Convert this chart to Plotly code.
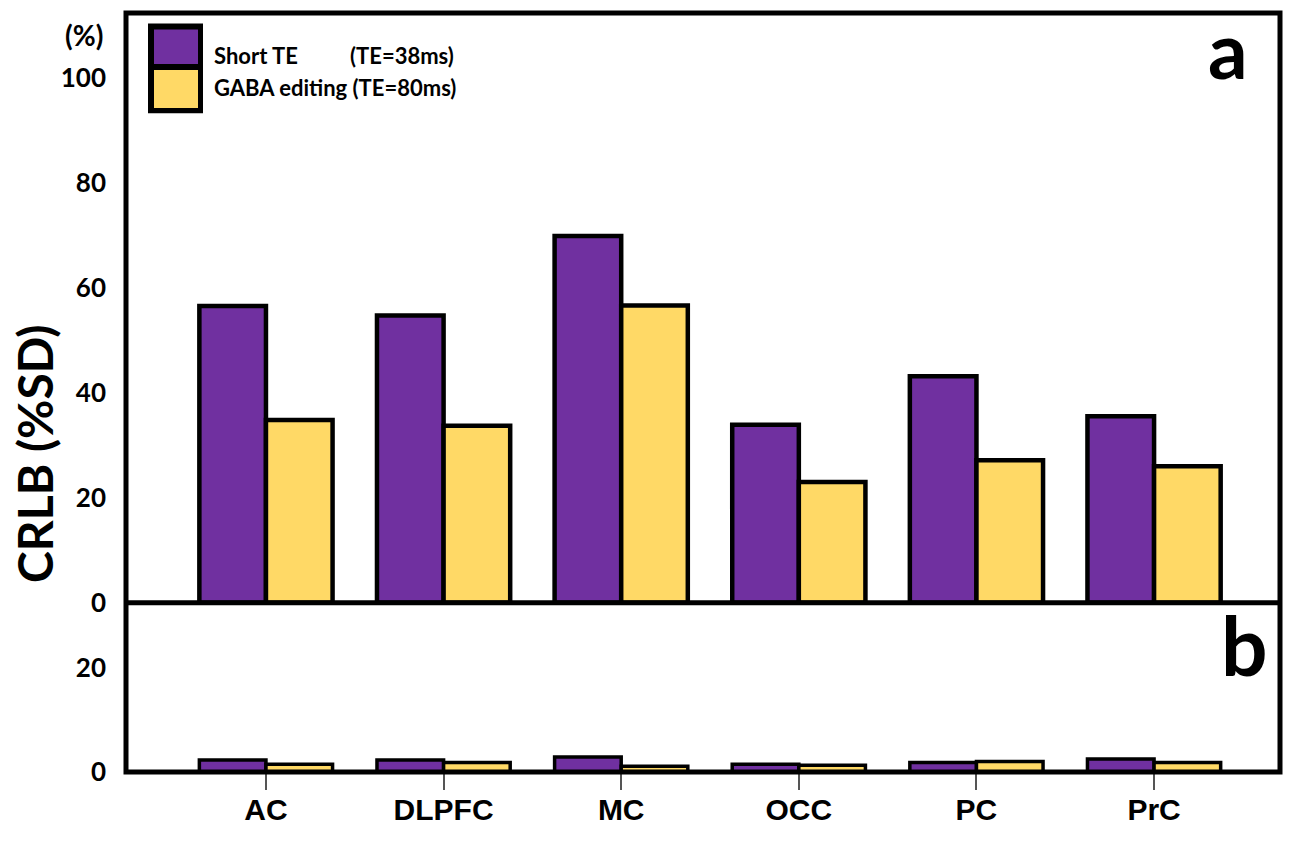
import plotly.graph_objects as go

# ---- data ----
regions = ["AC", "DLPFC", "MC", "OCC", "PC", "PrC"]
short_te_a = [56.5, 54.7, 69.8, 33.9, 43.1, 35.5]
gaba_edit_a = [34.8, 33.7, 56.6, 23.0, 27.1, 26.0]
short_te_b = [2.3, 2.3, 2.9, 1.5, 1.8, 2.5]
gaba_edit_b = [1.5, 1.8, 1.1, 1.3, 2.0, 1.8]
ticks_a = [0, 20, 40, 60, 80, 100]
ticks_b = [0, 20]
series_names = ["Short TE", "GABA editing"]
series_te = ["(TE=38ms)", "(TE=80ms)"]

PURPLE = "#7030A0"
GOLD = "#FFD966"

# ---- layout geometry (pixels in the 1300x846 window) ----
W_FIG, H_FIG = 1300, 846
L, R, T, B = 126, 1280, 12.5, 772.5
PW, PH = R - L, B - T
SPLIT = 603.0
FRAME_W = 5


def px(x):
    return (x - L) / PW


def py(y):
    return (B - y) / PH


split_frac = py(SPLIT)

fig = go.Figure()

for vals, name, col in [(short_te_a, series_names[0], PURPLE), (gaba_edit_a, series_names[1], GOLD)]:
    fig.add_trace(go.Bar(x=regions, y=vals, name=name, xaxis="x2", yaxis="y2",
                         marker=dict(color=col, line=dict(color="black", width=4.5)),
                         showlegend=False))
for vals, name, col in [(short_te_b, series_names[0], PURPLE), (gaba_edit_b, series_names[1], GOLD)]:
    fig.add_trace(go.Bar(x=regions, y=vals, name=name, xaxis="x", yaxis="y",
                         marker=dict(color=col, line=dict(color="black", width=3.5)),
                         showlegend=False))

tick_font = dict(family="Lato", size=26, color="black", weight="bold")

fig.update_layout(
    width=W_FIG, height=H_FIG,
    margin=dict(l=L, r=W_FIG - R, t=T, b=H_FIG - B, pad=0),
    paper_bgcolor="white", plot_bgcolor="white",
    barmode="group", bargap=0.25, bargroupgap=0,
    xaxis=dict(domain=[0, 1], anchor="y", range=[-0.788, 5.709],
               showline=False, ticks="outside", ticklen=17, tickwidth=2, tickcolor="#555555",
               ticklabelstandoff=-6,
               tickfont=dict(family="Liberation Sans", size=30, color="black", weight="bold"),
               showgrid=False, zeroline=False),
    xaxis2=dict(domain=[0, 1], anchor="y2", matches="x", range=[-0.788, 5.709],
                showline=False, showticklabels=False, ticks="", showgrid=False, zeroline=False),
    yaxis=dict(domain=[0, split_frac], anchor="x", range=[0, (B - SPLIT) / 5.22],
               tickvals=ticks_b, ticktext=[str(t) for t in ticks_b],
               showline=False, ticks="", ticklabelstandoff=19, tickfont=tick_font,
               showgrid=False, zeroline=False),
    yaxis2=dict(domain=[split_frac, 1], anchor="x2", range=[0, (SPLIT - T) / 5.26],
                tickvals=ticks_a, ticktext=[str(t) for t in ticks_a],
                showline=False, ticks="", ticklabelstandoff=19, tickfont=tick_font,
                showgrid=False, zeroline=False),
)

shapes = [
    # panel frames
    dict(type="rect", xref="paper", yref="paper", x0=0, x1=1, y0=0, y1=1,
         line=dict(color="black", width=FRAME_W), fillcolor="rgba(0,0,0,0)", layer="above"),
    dict(type="line", xref="paper", yref="paper", x0=0, x1=1, y0=split_frac, y1=split_frac,
         line=dict(color="black", width=FRAME_W), layer="above"),
    # legend swatches
    dict(type="rect", xref="paper", yref="paper", x0=px(148), x1=px(203), y0=py(23), y1=py(113),
         fillcolor="black", line=dict(width=0)),
    dict(type="rect", xref="paper", yref="paper", x0=px(154), x1=px(198), y0=py(29), y1=py(63.5),
         fillcolor=PURPLE, line=dict(width=0)),
    dict(type="rect", xref="paper", yref="paper", x0=px(154), x1=px(198), y0=py(69.5), y1=py(107.5),
         fillcolor=GOLD, line=dict(width=0)),
]
fig.update_layout(shapes=shapes)

leg_font = dict(family="Lato", size=22, color="black", weight="bold")
annotations = [
    dict(text=series_names[0], x=px(213), y=py(55), xanchor="left", yanchor="middle", font=leg_font),
    dict(text=series_te[0], x=px(455), y=py(55), xanchor="right", yanchor="middle", font=leg_font),
    dict(text=series_names[1] + " " + series_te[1], x=px(213), y=py(87), xanchor="left", yanchor="middle", font=leg_font),
    dict(text="(%)", x=px(104), y=py(35), xanchor="right", yanchor="middle",
         font=dict(family="Lato", size=28, color="black", weight="bold")),
    dict(text="a", x=px(1228), y=py(0.5), xanchor="center", yanchor="top",
         font=dict(family="Lato", size=78, color="black", weight="bold")),
    dict(text="b", x=px(1244), y=py(644), xanchor="center", yanchor="middle",
         font=dict(family="Lato", size=82, color="black", weight="bold")),
    dict(text="CRLB (%SD)", x=px(35), y=py(454), xanchor="center", yanchor="middle", textangle=-90,
         font=dict(family="Lato", size=48, color="black", weight="bold")),
]
for a in annotations:
    a.update(xref="paper", yref="paper", showarrow=False, borderpad=0)
fig.update_layout(annotations=annotations)

fig.write_html(
    "out.html",
    config={"displayModeBar": False},
    post_script="document.body.style.margin='0';document.documentElement.style.overflow='hidden';",
)
